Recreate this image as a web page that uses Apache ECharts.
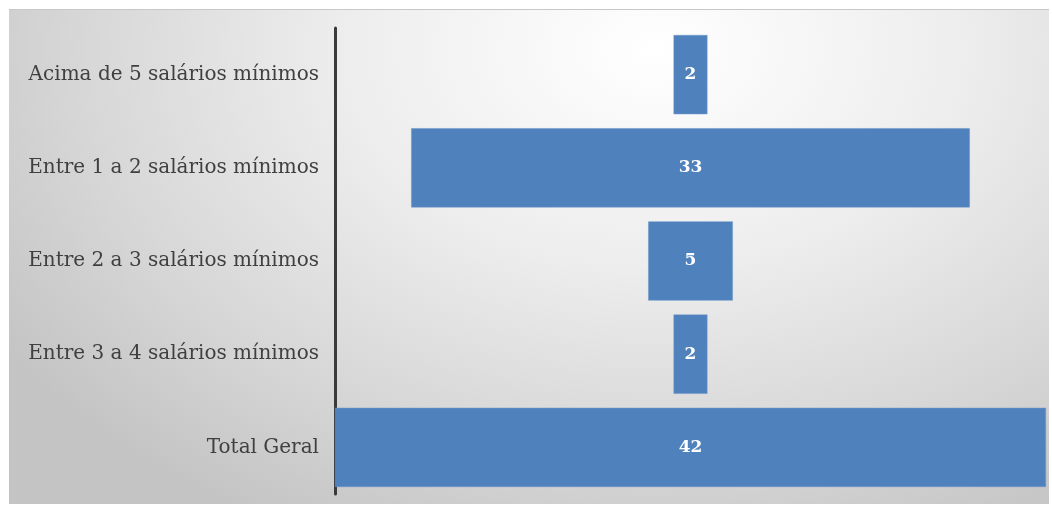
<!DOCTYPE html>
<html>
<head>
<meta charset="utf-8">
<script src="https://cdn.jsdelivr.net/npm/echarts@6/dist/echarts.min.js"></script>
<style>
html,body{margin:0;padding:0;background:#fff;width:1052px;height:506px;overflow:hidden;}
#box{position:absolute;left:9px;top:9px;width:1040px;height:494px;
background:radial-gradient(ellipse 75% 110% at 62% 8%, #ffffff 0%, #ededed 40%, #d6d6d6 75%, #c4c4c4 100%);
border-top:1px solid #c8c8c8;}
#chart{width:1040px;height:494px;}
</style>
</head>
<body>
<div id="box"><div id="chart"></div></div>
<script>
var categories = ["Acima de 5 salários mínimos","Entre 1 a 2 salários mínimos","Entre 2 a 3 salários mínimos","Entre 3 a 4 salários mínimos","Total Geral"];
var values = [2, 33, 5, 2, 42];
var maxValue = 42;

var offsets = values.map(function(v){ return (maxValue - v) / 2; });
var serif = '"DejaVu Serif", serif';

var chart = echarts.init(document.getElementById('chart'), null, {renderer:'canvas'});
chart.setOption({
  backgroundColor: 'transparent',
  animation: false,
  grid: {left: 326, right: 3, top: 18, bottom: 10},
  xAxis: {type:'value', min:0, max:maxValue, show:false},
  yAxis: {
    type:'category', data: categories, inverse:true,
    axisLine:{show:true, lineStyle:{color:'#3a3a3a', width:3}},
    axisTick:{show:false},
    axisLabel:{fontFamily:serif, fontSize:20, color:'#404040', margin:16}
  },
  series: [
    {type:'bar', stack:'f', data: offsets, itemStyle:{color:'transparent'}, barCategoryGap:'15%', silent:true},
    {type:'bar', stack:'f', data: values, barCategoryGap:'15%',
     itemStyle:{color:'#4f81bd', borderColor:'#6d96c8', borderWidth:0.5},
     label:{show:true, position:'inside', color:'#fff', fontFamily:serif, fontSize:17, fontWeight:'bold'}}
  ]
});
</script>
</body>
</html>
